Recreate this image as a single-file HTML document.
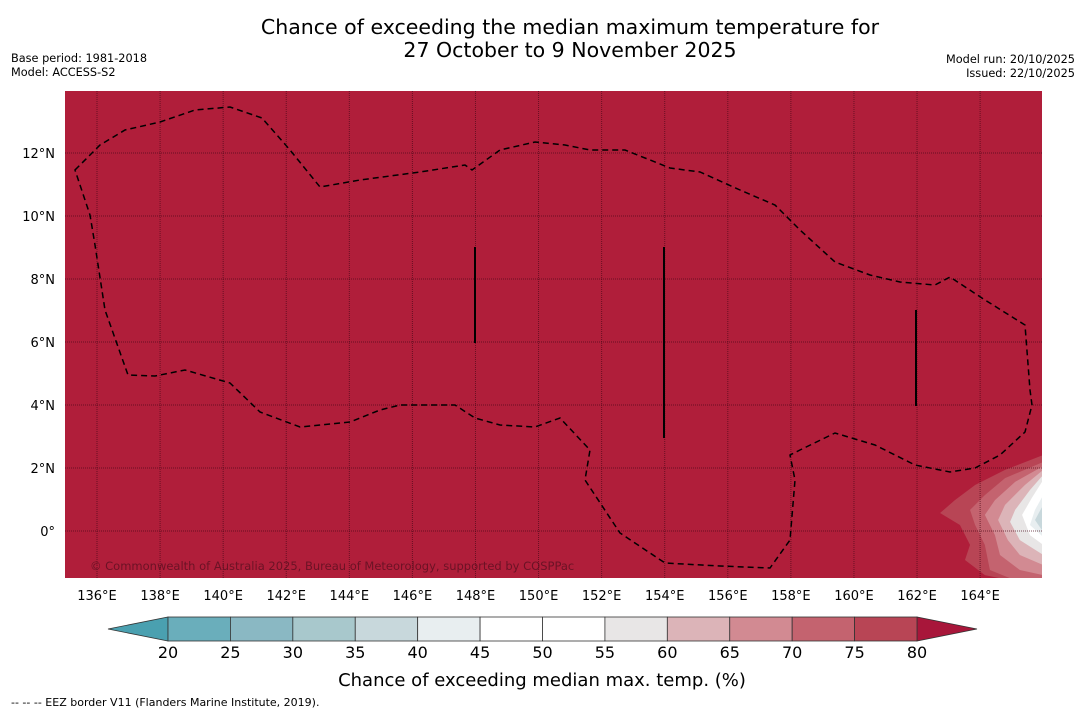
<!DOCTYPE html>
<html><head><meta charset="utf-8"><style>
body{margin:0;background:#fff;width:1085px;height:713px;overflow:hidden;font-family:"DejaVu Sans",sans-serif}
</style></head><body>
<svg id="chart" width="1085" height="713" xmlns="http://www.w3.org/2000/svg" font-family="DejaVu Sans, Liberation Sans, sans-serif">
<text x="570" y="34" font-size="20.5" text-anchor="middle">Chance of exceeding the median maximum temperature for</text>
<text x="570" y="57" font-size="20.5" text-anchor="middle">27 October to 9 November 2025</text>
<text x="11" y="62" font-size="11.3">Base period: 1981-2018</text>
<text x="11" y="76" font-size="11.3">Model: ACCESS-S2</text>
<text x="1075" y="63" font-size="11.3" text-anchor="end">Model run: 20/10/2025</text>
<text x="1075" y="77" font-size="11.3" text-anchor="end">Issued: 22/10/2025</text>
<defs><clipPath id="mc"><rect x="65" y="91" width="977" height="487"/></clipPath></defs>
<rect x="65" y="91" width="977" height="487" fill="#b01e3a"/>
<g id="contours" clip-path="url(#mc)"></g>
<g id="grid" clip-path="url(#mc)"></g>
<path clip-path="url(#mc)" fill="none" stroke="#000" stroke-width="1.5" stroke-dasharray="6,4" d="M75,170 L100,145 L125,130 L160,122 L195,110 L230,107 L262,118 L290,150 L320,187 L360,180 L420,172 L465,165 L472,170 L500,150 L535,142 L565,145 L590,150 L625,150 L650,160 L670,168 L700,172 L740,190 L775,205 L800,230 L835,262 L870,275 L900,282 L935,285 L950,277 L985,300 L1025,325 L1030,390 L1032,405 L1025,432 L1000,455 L975,468 L950,472 L915,465 L875,445 L835,433 L800,450 L790,455 L795,480 L790,540 L770,568 L720,566 L665,563 L620,533 L585,480 L590,450 L560,418 L535,427 L500,425 L475,418 L455,405 L400,405 L380,410 L350,422 L300,427 L260,412 L230,383 L185,370 L155,376 L128,375 L105,310 L95,245 L90,215 Z"/>
<g stroke="#000" stroke-width="2">
<line x1="475" y1="247" x2="475" y2="343"/><line x1="664" y1="247" x2="664" y2="438"/><line x1="916" y1="310" x2="916" y2="406"/>
</g>
<text x="90" y="570" font-size="11.5" fill="#5a1020" opacity="0.8">© Commonwealth of Australia 2025, Bureau of Meteorology, supported by COSPPac</text>
<g id="ticks"></g>
<g id="colorbar"></g>
<text x="542" y="686" font-size="18" text-anchor="middle">Chance of exceeding median max. temp. (%)</text>
<text x="11" y="706" font-size="11">--  --  -- EEZ border V11 (Flanders Marine Institute, 2019).</text>
</svg>
<script>
const lonTicks=[136,138,140,142,144,146,148,150,152,154,156,158,160,162,164];
const latTicks=[0,2,4,6,8,10,12];
const cbLevels=[20,25,30,35,40,45,50,55,60,65,70,75,80];
const cbColors=["#6aaebb","#8ab8c3","#a8c8cc","#c8d8dc","#e8eef0","#ffffff","#ffffff","#e8e6e6","#dcb4b8","#d28a92","#c4636f","#b84555"];
const contourLevels=[75,70,65,60,55,45,40,35];
const contourColors=["#b84555","#c4636f","#d28a92","#dcb4b8","#e8e6e6","#ffffff","#e8eef0","#c8d8dc"];
const contourLon=[
[166,164.79,163.84,163.2,162.73,163.36,163.68,163.52,164.15,164.63,166],
[166,164.79,164.15,163.68,163.84,164.15,164.31,164.95,166],
[166,165.11,164.47,164.15,164.47,164.63,165.26,166],
[166,165.42,164.79,164.57,164.88,165.26,166],
[166,165.58,165.11,164.95,165.26,166],
[166,165.64,165.33,165.58,166],
[166,165.74,165.58,166],
[166,165.74,166]];
const contourLat=[
[2.41,1.94,1.46,0.98,0.57,0.19,-0.44,-0.92,-1.4,-1.5,-1.5],
[2.19,1.68,1.14,0.67,0.19,-0.44,-1.24,-1.5,-1.5],
[2.06,1.56,0.98,0.51,-0.13,-0.76,-1.24,-1.4],
[1.94,1.46,0.83,0.35,-0.29,-0.76,-1.08],
[1.78,1.3,0.67,0.29,-0.29,-0.76],
[1.62,1.05,0.51,-0.13,-0.44],
[1.14,0.67,0.19,-0.19],
[0.83,0.35,-0.03]];
const NS="http://www.w3.org/2000/svg";
const X=lon=>97+(lon-136)*31.54;
const Y=lat=>531-lat*31.5;
const CX=v=>168+(v-20)*(917-168)/60;
function mk(t,a,p){const e=document.createElementNS(NS,t);for(const k in a)e.setAttribute(k,a[k]);p.appendChild(e);return e;}
const cg=document.getElementById('contours');
contourLevels.forEach((lv,i)=>{
 const pts=contourLon[i].map((lo,j)=>X(lo)+','+Y(contourLat[i][j])).join(' ');
 const p=mk('polygon',{points:pts,fill:contourColors[i]},cg);
 
 
});
const gg=document.getElementById('grid');
lonTicks.forEach(lo=>{const l=mk('line',{x1:X(lo),x2:X(lo),y1:91,y2:578,stroke:'#4a0a18','stroke-width':1,'stroke-dasharray':'1,1',opacity:0.7},gg);
 
 });
latTicks.forEach(la=>{const l=mk('line',{x1:65,x2:1042,y1:Y(la),y2:Y(la),stroke:'#4a0a18','stroke-width':1,'stroke-dasharray':'1,1',opacity:0.7},gg);
 
 });
const tg=document.getElementById('ticks');
lonTicks.forEach(lo=>{const t=mk('text',{x:X(lo),y:600,'font-size':13,'text-anchor':'middle'},tg);t.textContent=lo+'°E';
 
 });
latTicks.forEach(la=>{const t=mk('text',{x:55,y:Y(la)+5,'font-size':13,'text-anchor':'end'},tg);t.textContent=la===0?'0°':la+'°N';
 
 });
const bg=document.getElementById('colorbar');
const lt=mk('polygon',{points:`108,629 ${CX(20)},617 ${CX(20)},641`,fill:'#4aa0b0',stroke:'#333','stroke-width':0.8},bg);


const rt=mk('polygon',{points:`977,629 ${CX(80)},617 ${CX(80)},641`,fill:'#a8163a',stroke:'#333','stroke-width':0.8},bg);


cbColors.forEach((c,i)=>{const r=mk('rect',{x:CX(cbLevels[i]),y:617,width:CX(cbLevels[i+1])-CX(cbLevels[i]),height:24,fill:c,stroke:'#333','stroke-width':0.8},bg);
 
 });
cbLevels.forEach(v=>{const t=mk('text',{x:CX(v),y:658,'font-size':16,'text-anchor':'middle'},bg);t.textContent=v;
 
 });
</script>
</body></html>
